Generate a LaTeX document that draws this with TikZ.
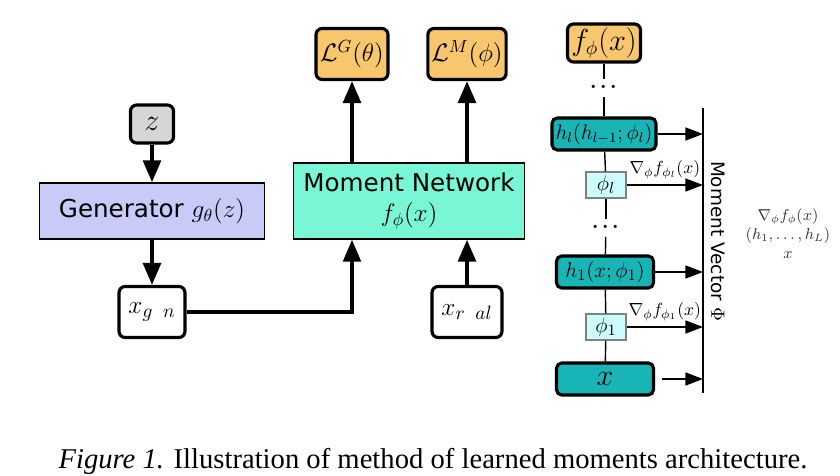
\documentclass[tikz,border=0pt]{standalone}
\usepackage{fontspec}
\setsansfont{DejaVu Sans}
\newfontfamily\capfont{Liberation Serif}
\usetikzlibrary{arrows.meta, calc}
\definecolor{genBlue}{HTML}{C8CAF8}
\definecolor{netAqua}{HTML}{78F6D6}
\definecolor{lossOrange}{HTML}{F8C66C}
\definecolor{layerTeal}{HTML}{19B4B6}
\definecolor{paramCyan}{HTML}{CCFCFC}
\definecolor{noiseGray}{HTML}{D6D6D6}
\newcommand{\fs}[1]{\fontsize{#1}{1.2\dimexpr #1pt\relax}\selectfont}
\newcommand{\skipdots}{$\cdot\!\cdot\!\cdot$}

\begin{document}
\begin{tikzpicture}[
  x=0.02cm, y=-0.02cm,
  >={Triangle[length=12.5pt, width=10pt]},
  term/.style={rectangle, rounded corners=3.5pt, draw, line width=1.8pt, inner sep=2pt},
  blockbox/.style={rectangle, draw, line width=0.8pt, align=center, font=\sffamily\fs{14}},
  layer/.style={term, fill=layerTeal, minimum width=1.94cm, minimum height=0.64cm, rounded corners=3pt},
  param/.style={rectangle, draw=gray, line width=0.8pt, fill=paramCyan, minimum width=0.8cm, minimum height=0.52cm, inner sep=1pt},
  gap/.style={inner sep=1pt, font=\fs{17}},
  flow/.style={->, line width=2.3pt},
  link/.style={line width=0.8pt},
  mvarrow/.style={-{Triangle[length=10pt, width=7.4pt]}, line width=0.8pt},
]
\useasboundingbox (0,0) rectangle (840,476);

% ===== Generator path =======================================================
\node[term, fill=noiseGray, minimum width=0.86cm, minimum height=0.76cm, font=\fs{17}] (noise) at (152,124) {$z$};
\node[blockbox, fill=genBlue, minimum width=4.5cm, minimum height=1.12cm] (gen) at (152,211)
  {Generator $g_\theta(z)$};
\node[term, fill=white, minimum width=1.32cm, minimum height=1.02cm, font=\fs{15.5}] (xgen) at (152,312) {$x_{g\;\;n}$};

\draw[flow] (noise) -- (gen);
\draw[flow] (gen) -- (xgen);

% ===== Moment network and losses ============================================
\node[blockbox, fill=netAqua, minimum width=4.62cm, minimum height=1.52cm] (mnet) at (409,201)
  {Moment Network\\ $f_\phi(x)$};
\node[term, fill=lossOrange, minimum width=1.44cm, minimum height=1.02cm, font=\fs{14}] (lossG) at (352,54) {$\mathcal{L}^G(\theta)$};
\node[term, fill=lossOrange, minimum width=1.44cm, minimum height=1.02cm, font=\fs{14}] (lossM) at (467,54) {$\mathcal{L}^M(\phi)$};
\node[term, fill=white, minimum width=1.4cm, minimum height=1.02cm, font=\fs{15.5}] (xreal) at (467,312) {$x_{r\;\;al}$};

\draw[flow, line width=2pt] (xgen.east) -| (lossG |- mnet.south);
\draw[flow] (xreal) -- (xreal |- mnet.south);
\draw[flow] (lossG |- mnet.north) -- (lossG);
\draw[flow] (lossM |- mnet.north) -- (lossM);

% ===== Layer stack ==========================================================
\node[term, fill=lossOrange, minimum width=1.46cm, minimum height=0.68cm, font=\fs{16}] (fout) at (604,43) {$f_\phi(x)$};
\node[gap] (dotsA) at (604,88) {\skipdots};
\node[layer, font=\fs{11.5}] (hl) at (604,134) {$h_l(h_{l-1};\phi_l)$};
\node[param, font=\fs{13}] (phil) at (606,185) {$\phi_l$};
\node[gap] (dotsB) at (606,228) {\skipdots};
\node[layer, font=\fs{13}] (hone) at (605,272) {$h_1(x;\phi_1)$};
\node[param, font=\fs{13}] (phione) at (606,327) {$\phi_1$};
\node[layer, font=\fs{18}] (xin) at (605,379) {$x$};

\draw[link] (fout) -- (dotsA);
\draw[link] (dotsA) -- (hl);
\draw[link] (hl) -- (phil);
\draw[link] (phil) -- (dotsB);
\draw[link] (dotsB) -- (hone);
\draw[link] (hone) -- (phione);
\draw[link] (phione) -- (xin);

% ===== Moment vector ========================================================
\coordinate (mvtop) at (703,108);
\coordinate (mvbot) at (703,393);
\draw[link] (mvtop) -- (mvbot);
\node[rotate=-90, font=\sffamily\fs{10.5}] (mvlabel) at (718,241) {Moment Vector $\Phi$};

\draw[mvarrow] (hl.east) -- (hl.east -| mvtop);
\draw[mvarrow] (phil.east) -- node[above, font=\fs{10}] (gradl) {$\nabla_\phi f_{\phi_l}(x)$} (phil.east -| mvtop);
\draw[mvarrow] (hone.east) -- (hone.east -| mvtop);
\draw[mvarrow] (phione.east) -- node[above, font=\fs{10}] (gradone) {$\nabla_\phi f_{\phi_1}(x)$} (phione.east -| mvtop);
\draw[mvarrow, shorten <=4pt] (xin.east) -- (xin.east -| mvtop);

\node[align=center, font=\fs{9}, text=black!80] (mvparts) at (788,234)
  {$\nabla_\phi f_\phi(x)$\\ $(h_1,\dots,h_L)$\\ $x$};

% ===== Caption ==============================================================
\node[font=\capfont\fs{16.3}] (caption) at (433,461)
  {\textit{Figure 1.} Illustration of method of learned moments architecture.};

\end{tikzpicture}
\end{document}
